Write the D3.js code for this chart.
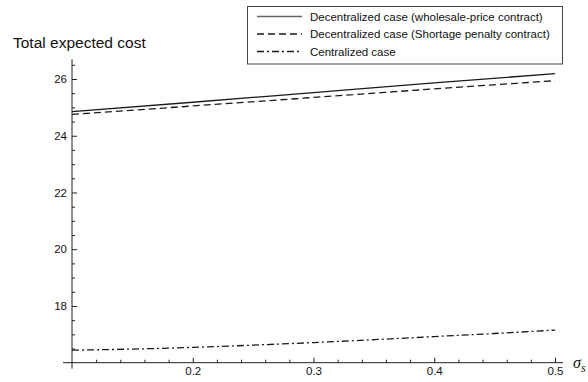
<!DOCTYPE html>
<meta charset="utf-8">
<style>
    body { margin: 0; background: #fff; }
    text { font-family: "Liberation Sans", Arial, sans-serif; fill: #111; }
</style>
<body>
<script src="https://d3js.org/d3.v7.min.js"></script>
<script>

// values (sigma_s -> total expected cost)
var sigma = [0.1, 0.2, 0.3, 0.4, 0.5];
var wholesaleCost = [24.85, 25.18, 25.52, 25.86, 26.19];
var penaltyCost = [24.75, 25.05, 25.35, 25.65, 25.94];
var sigmaFine = [0.1, 0.15, 0.2, 0.25, 0.3, 0.35, 0.4, 0.45, 0.5];
var centralCost = [16.44, 16.48, 16.54, 16.62, 16.71, 16.81, 16.92, 17.03, 17.15];

var xMajor = [0.2, 0.3, 0.4, 0.5];
var yMajor = [18, 20, 22, 24, 26];
var legendLabels = [
    'Decentralized case (wholesale-price contract)',
    'Decentralized case (Shortage penalty contract)',
    'Centralized case'
];

var width = 588, height = 382;

var x = d3.scaleLinear().domain([0.1, 0.5]).range([72, 555]);
var y = d3.scaleLinear().domain([16, 26]).range([362.7, 79]);

var svg = d3.select('body').append('svg')
    .attr('width', width)
    .attr('height', height);

// minor ticks
var xMinor = d3.range(0.12, 0.5001, 0.02).filter(function(v) {
    return xMajor.every(function(m) { return Math.abs(m - v) > 1e-6; });
});
var yMinor = d3.range(16.5, 26.51, 0.5).filter(function(v) {
    return yMajor.indexOf(v) < 0;
});

svg.append('g')
    .attr('transform', 'translate(0,' + y(16) + ')')
    .call(d3.axisBottom(x).tickValues(xMinor).tickSizeInner(-3).tickSizeOuter(0).tickFormat(''))
    .call(function(g) { g.select('.domain').remove(); });

var xAxis = svg.append('g')
    .attr('transform', 'translate(0,' + y(16) + ')')
    .call(d3.axisBottom(x).tickValues(xMajor).tickSizeInner(-5).tickSizeOuter(0).tickPadding(4)
        .tickFormat(d3.format('.1f')));
xAxis.select('.domain').remove();
xAxis.selectAll('text').style('font-size', '11.5px').attr('fill', '#111');

svg.append('g')
    .attr('transform', 'translate(' + x(0.1) + ',0)')
    .call(d3.axisLeft(y).tickValues(yMinor).tickSizeInner(-3).tickSizeOuter(0).tickFormat(''))
    .call(function(g) { g.select('.domain').remove(); });

var yAxis = svg.append('g')
    .attr('transform', 'translate(' + x(0.1) + ',0)')
    .call(d3.axisLeft(y).tickValues(yMajor).tickSizeInner(-5).tickSizeOuter(0).tickPadding(5));
yAxis.select('.domain').remove();
yAxis.selectAll('text').style('font-size', '11.5px').attr('fill', '#111');

svg.selectAll('.tick line').attr('stroke', '#222');

// axis lines, with the small overshoot
svg.append('line')
    .attr('x1', x(0.1) - 9).attr('x2', 563)
    .attr('y1', y(16)).attr('y2', y(16))
    .attr('stroke', '#222');
svg.append('line')
    .attr('x1', x(0.1)).attr('x2', x(0.1))
    .attr('y1', y(16) + 6).attr('y2', 59.3)
    .attr('stroke', '#222');

// axis titles
svg.append('text')
    .attr('x', 13).attr('y', 48)
    .style('font-size', '15.5px')
    .text('Total expected cost');

var sig = svg.append('text')
    .attr('x', 573).attr('y', 368)
    .style('font-family', '"Liberation Serif", serif')
    .style('font-style', 'italic')
    .style('font-size', '16px')
    .attr('fill', '#333');
sig.append('tspan').text('σ');
sig.append('tspan').attr('dy', 4).style('font-size', '12px').text('s');

// lines
var styles = [
    { dash: null, width: 1.3 },
    { dash: '7,4', width: 1.3 },
    { dash: '7,3,2,3', width: 1.3 }
];
var series = [
    { xs: sigma, ys: wholesaleCost },
    { xs: sigma, ys: penaltyCost },
    { xs: sigmaFine, ys: centralCost }
];

var line = d3.line()
    .x(function(d) { return x(d[0]); })
    .y(function(d) { return y(d[1]); })
    .curve(d3.curveMonotoneX);

series.forEach(function(s, i) {
    svg.append('path')
        .datum(d3.zip(s.xs, s.ys))
        .attr('d', line)
        .attr('fill', 'none')
        .attr('stroke', '#1a1a1a')
        .attr('stroke-width', styles[i].width)
        .attr('stroke-dasharray', styles[i].dash);
});

// legend
var legend = svg.append('g');
legend.append('rect')
    .attr('x', 247.5).attr('y', 6.5)
    .attr('width', 315).attr('height', 57.5)
    .attr('fill', '#fff')
    .attr('stroke', '#444');

var rowY = [16.5, 34, 51.5];
legendLabels.forEach(function(label, i) {
    legend.append('line')
        .attr('x1', 257).attr('x2', 302)
        .attr('y1', rowY[i]).attr('y2', rowY[i])
        .attr('stroke', i == 0 ? '#666' : '#1a1a1a')
        .attr('stroke-width', 1.3)
        .attr('stroke-dasharray', styles[i].dash);
    legend.append('text')
        .attr('x', 310).attr('y', rowY[i])
        .attr('dy', '0.35em')
        .style('font-size', '11.5px')
        .text(label);
});

</script>
</body>
